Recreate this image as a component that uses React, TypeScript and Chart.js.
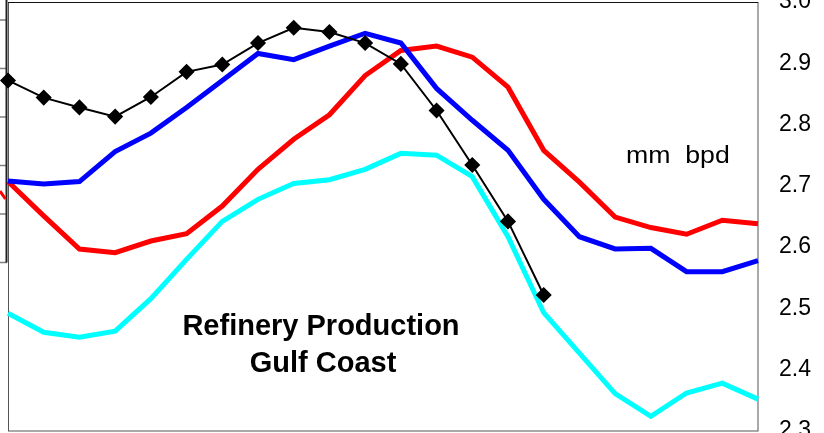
import React, { useEffect, useRef } from "react";
import { Chart, registerables } from "chart.js";

Chart.register(...registerables);

const periods = [
  "P1", "P2", "P3", "P4", "P5", "P6", "P7", "P8", "P9", "P10", "P11",
  "P12", "P13", "P14", "P15", "P16", "P17", "P18", "P19", "P20", "P21", "P22",
];

const seriesBlack = [
  2.872, 2.844, 2.828, 2.813, 2.845, 2.886, 2.898, 2.933, 2.958, 2.951, 2.933,
  2.899, 2.823, 2.734, 2.642, 2.522,
];

const seriesBlue = [
  2.708, 2.703, 2.707, 2.756, 2.786, 2.828, 2.872, 2.916, 2.906, 2.928, 2.949,
  2.933, 2.859, 2.807, 2.758, 2.678, 2.617, 2.597, 2.598, 2.560, 2.560, 2.578,
];

const seriesRed = [
  2.707, 2.651, 2.597, 2.591, 2.610, 2.622, 2.667, 2.727, 2.776, 2.816, 2.880,
  2.921, 2.928, 2.910, 2.861, 2.758, 2.706, 2.649, 2.632, 2.621, 2.644, 2.638,
];

const seriesCyan = [
  2.492, 2.461, 2.453, 2.463, 2.516, 2.580, 2.642, 2.678, 2.704, 2.710, 2.727,
  2.753, 2.750, 2.715, 2.617, 2.493, 2.427, 2.361, 2.324, 2.362, 2.378, 2.352,
];

const yTicks = [2.3, 2.4, 2.5, 2.6, 2.7, 2.8, 2.9, 3.0];

const titleLines = ["Refinery Production", "Gulf Coast"];
const unitLabel = "mm  bpd";

const decorPlugin = {
  id: "decor",
  beforeDatasetsDraw(chart: any) {
    const { ctx, chartArea } = chart;
    const { left, top, right, bottom } = chartArea;
    ctx.save();
    // remnant of a neighbouring axis at far left
    ctx.strokeStyle = "#7f7f7f";
    ctx.lineWidth = 1.5;
    const step = 48.5;
    for (let i = 0; i < 6; i++) {
      const y = top + 18 + i * step;
      ctx.beginPath();
      ctx.moveTo(0, y);
      ctx.lineTo(left - 1, y);
      ctx.stroke();
    }
    ctx.strokeStyle = "#222";
    ctx.lineWidth = 2;
    ctx.beginPath();
    ctx.moveTo(left - 1.5, 0);
    ctx.lineTo(left - 1.5, top + 18 + 5 * step);
    ctx.stroke();
    ctx.strokeStyle = "#ff0000";
    ctx.lineWidth = 3;
    ctx.beginPath();
    ctx.moveTo(0, top + 189);
    ctx.lineTo(left - 2.5, top + 197);
    ctx.stroke();
    // plot frame
    ctx.strokeStyle = "#555";
    ctx.lineWidth = 1;
    ctx.strokeRect(left + 0.5, top + 0.5, right - left - 0.5, bottom - top - 0.5);
    ctx.strokeStyle = "#111";
    ctx.beginPath();
    ctx.moveTo(left, top + 0.5);
    ctx.lineTo(right, top + 0.5);
    ctx.stroke();
    ctx.restore();
  },
  afterDraw(chart: any) {
    const { ctx } = chart;
    ctx.save();
    ctx.fillStyle = "#000";
    ctx.font = "bold 29px 'Liberation Sans', Arial, sans-serif";
    ctx.textAlign = "center";
    ctx.textBaseline = "alphabetic";
    ctx.fillText(titleLines[0], 321, 335);
    ctx.fillText(titleLines[1], 323, 372);
    ctx.translate(626, 163);
    ctx.scale(1.16, 1);
    ctx.font = "23px 'Liberation Sans', Arial, sans-serif";
    ctx.textAlign = "left";
    ctx.fillText(unitLabel, 0, 0);
    ctx.restore();
  },
};

export default function App() {
  const ref = useRef<HTMLCanvasElement | null>(null);
  useEffect(() => {
    if (!ref.current) return;
    const chart = new Chart(ref.current, {
      type: "line",
      data: {
        labels: periods,
        datasets: [
          {
            data: seriesBlack,
            borderColor: "#000000",
            backgroundColor: "#000000",
            borderWidth: 2,
            pointStyle: "rectRot",
            pointRadius: 7,
            pointBorderWidth: 1.5,
            pointBackgroundColor: "#000000",
            pointBorderColor: "#000000",
            tension: 0,
            order: 0,
          },
          {
            data: seriesBlue,
            borderColor: "#0000ff",
            borderWidth: 5,
            pointRadius: 0,
            tension: 0,
            order: 1,
          },
          {
            data: seriesCyan,
            borderColor: "#00ffff",
            borderWidth: 5,
            pointRadius: 0,
            tension: 0,
            order: 2,
          },
          {
            data: seriesRed,
            borderColor: "#ff0000",
            borderWidth: 5,
            pointRadius: 0,
            tension: 0,
            order: 3,
          },
        ],
      },
      options: {
        animation: false,
        responsive: true,
        maintainAspectRatio: false,
        layout: { autoPadding: false, padding: { left: 8, top: 2, bottom: 2, right: 0 } },
        plugins: { legend: { display: false }, tooltip: { enabled: false } },
        scales: {
          x: {
            type: "category",
            offset: false,
            display: false,
          },
          y: {
            position: "right",
            min: 2.3,
            max: 3.0,
            grid: { display: false, drawTicks: false, tickLength: 0 },
            border: { display: false },
            afterFit(scale: any) {
              scale.width = 66;
              scale.paddingTop = 0;
              scale.paddingBottom = 0;
            },
            afterBuildTicks(scale: any) {
              scale.ticks = yTicks.map((v) => ({ value: v }));
            },
            ticks: {
              autoSkip: false,
              padding: 21,
              color: "#000",
              font: { family: "'Liberation Sans', Arial, sans-serif", size: 23 },
              callback: (v: any) => Number(v).toFixed(1),
            },
          },
        },
      },
      plugins: [decorPlugin],
    });
    return () => chart.destroy();
  }, []);
  return (
    <div style={{ position: "fixed", left: 0, top: 0, width: 824, height: 433, background: "#fff" }}>
      <canvas ref={ref} />
    </div>
  );
}
